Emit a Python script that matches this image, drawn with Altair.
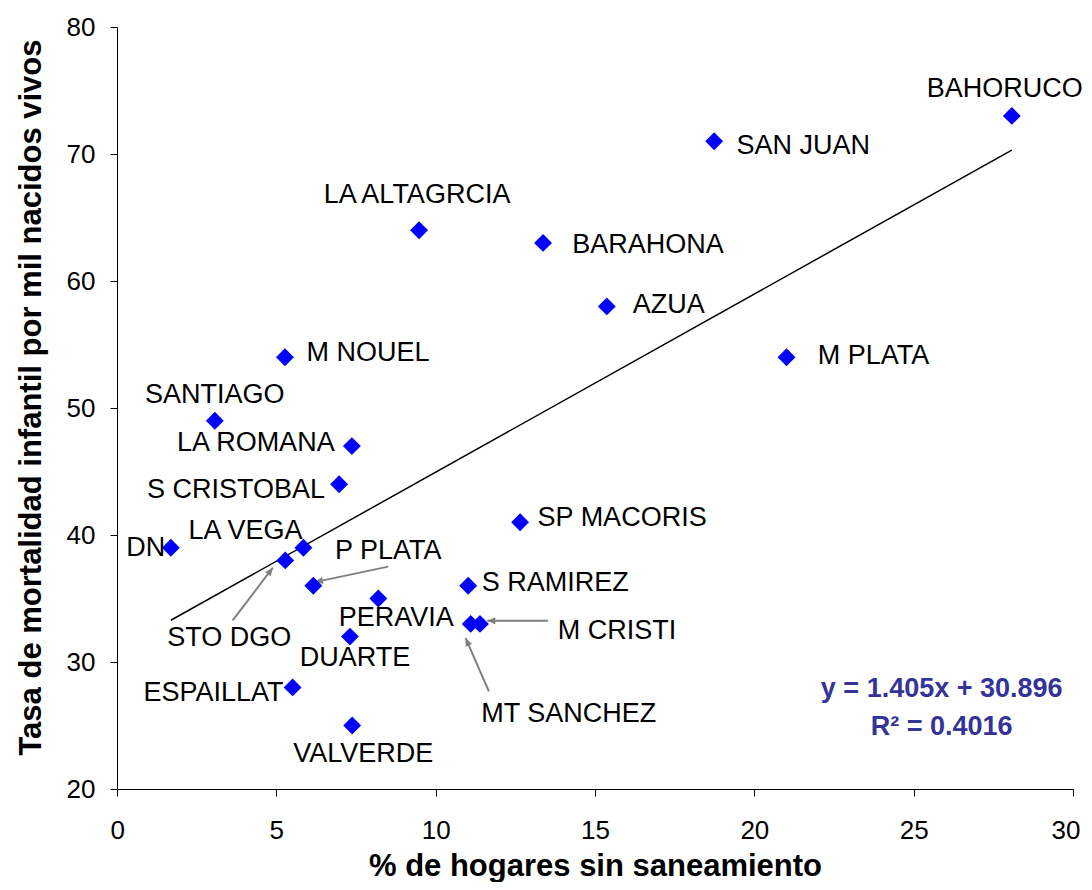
import altair as alt
import pandas as pd
import numpy as np

# ---------------- data ----------------
provincias = ["DN", "STO DGO", "LA VEGA", "P PLATA", "PERAVIA", "DUARTE", "ESPAILLAT",
              "VALVERDE", "S RAMIREZ", "MT SANCHEZ", "M CRISTI", "SANTIAGO", "LA ROMANA",
              "S CRISTOBAL", "M NOUEL", "LA ALTAGRCIA", "BARAHONA", "AZUA", "SP MACORIS",
              "SAN JUAN", "BAHORUCO", "M PLATA"]
sin_saneamiento = [1.69, 5.28, 5.85, 6.16, 8.20, 7.31, 5.51,
                   7.38, 11.02, 11.10, 11.39, 3.07, 7.37,
                   6.97, 5.27, 9.48, 13.37, 15.37, 12.65,
                   18.74, 28.08, 21.01]
mortalidad = [39, 38, 39, 36, 35, 32, 28,
              25, 36, 33, 33, 49, 47,
              44, 54, 64, 63, 58, 41,
              71, 73, 54]

# arrows (annotation, data units): tail -> head
flecha_nombre = ["STO DGO", "P PLATA", "M CRISTI", "MT SANCHEZ"]
flecha_x0 = [3.63, 8.51, 13.53, 11.67]
flecha_y0 = [33.27, 37.51, 33.24, 27.68]
flecha_x1 = [4.89, 6.21, 11.62, 10.94]
flecha_y1 = [37.43, 36.29, 33.24, 31.88]

ecuacion = ["y = 1.405x + 30.896", "R² = 0.4016"]
ecuacion_x = [25.88, 25.88]
ecuacion_y = [27.26, 24.27]

x_ticks = [0, 5, 10, 15, 20, 25, 30]
y_ticks = [20, 30, 40, 50, 60, 70, 80]

# ---------------- layout / style ----------------
W, H = 956, 762
FONT = "Liberation Sans"
# label offsets (pixels, label centre relative to marker)
label_dx = [-25, -56, -58, 75, 18, 5, -79,
            11, 87, 98, 137, 0, -96,
            -103, 83, -2, 105, 62, 102,
            89, -7, 87]
label_dy = [0, 78, -17, -35, 19, 21, 6,
            28, -3, 90, 7, -26, -3,
            6, -4, -35, 2, -1, -4,
            5, -27, -1]

df = pd.DataFrame({"prov": provincias, "x": sin_saneamiento, "y": mortalidad})

xscale = alt.Scale(domain=[0, 30], nice=False, zero=False)
yscale = alt.Scale(domain=[20, 80], nice=False, zero=False)

x_axis = alt.Axis(values=x_ticks, title="% de hogares sin saneamiento", grid=False,
                  domainColor="black", tickColor="black", tickSize=7, domainWidth=1,
                  labelFont=FONT, labelFontSize=26, labelColor="black", labelPadding=21,
                  labelFlush=True, labelFlushOffset=7,
                  titleFont=FONT, titleFontSize=31, titleFontWeight="bold",
                  titleColor="black", titleBaseline="alphabetic", titleY=86)
y_axis = alt.Axis(values=y_ticks, title="Tasa de mortalidad infantil por mil nacidos vivos",
                  grid=False, domainColor="black", tickColor="black", tickSize=7, domainWidth=1,
                  labelFont=FONT, labelFontSize=26, labelColor="black", labelPadding=15,
                  labelFlush=False, titleFont=FONT, titleFontSize=31, titleFontWeight="bold",
                  titleColor="black", titleBaseline="alphabetic", titleX=-77, titleY=370)


def X(field):
    return alt.X(field, scale=xscale, axis=x_axis)


def Y(field):
    return alt.Y(field, scale=yscale, axis=y_axis)


base = alt.Chart(df)

trend = base.transform_regression("x", "y", method="linear").mark_line(
    color="black", strokeWidth=1.5
).encode(x=X("x:Q"), y=Y("y:Q"))

points = base.mark_point(shape="diamond", filled=True, size=320, color="#0000FF",
                         opacity=1).encode(x=X("x:Q"), y=Y("y:Q"))

labels = []
for name, dx, dy in zip(provincias, label_dx, label_dy):
    labels.append(
        base.transform_filter(alt.datum.prov == name).mark_text(
            font=FONT, fontSize=27, color="black", align="center", baseline="middle",
            dx=dx, dy=dy
        ).encode(x=X("x:Q"), y=Y("y:Q"), text="prov:N")
    )

# arrows
adf = pd.DataFrame({"n": flecha_nombre, "x0": flecha_x0, "y0": flecha_y0,
                    "x1": flecha_x1, "y1": flecha_y1})
dxp = (adf["x1"] - adf["x0"]) * W / 30.0
dyp = -(adf["y1"] - adf["y0"]) * H / 60.0
adf["ang"] = np.mod(np.degrees(np.arctan2(dxp, -dyp)), 360)

arrow_lines = alt.Chart(adf).mark_rule(color="#808080", strokeWidth=2).encode(
    x=X("x0:Q"), y=Y("y0:Q"), x2="x1:Q", y2="y1:Q",
)
arrow_heads = alt.Chart(adf).mark_point(
    shape="M0,0L-0.7,1.6L0.7,1.6Z", filled=True, size=100, color="#808080", opacity=1
).encode(x=X("x1:Q"), y=Y("y1:Q"), angle=alt.Angle("ang:Q", scale=None))

edf = pd.DataFrame({"t": ecuacion, "x": ecuacion_x, "y": ecuacion_y})
eq_text = alt.Chart(edf).mark_text(
    font=FONT, fontSize=27, fontWeight="bold", color="#333399",
    align="center", baseline="alphabetic"
).encode(x=X("x:Q"), y=Y("y:Q"), text="t:N")

chart = alt.layer(trend, arrow_lines, arrow_heads, points, *labels, eq_text).properties(
    width=W, height=H,
    autosize=alt.AutoSizeParams(type="none"),
    padding={"left": 109, "top": 19, "right": 11, "bottom": 93},
    background="white",
).configure_view(stroke=None)

chart.save("out.html", embed_options={"renderer": "svg", "actions": False})
